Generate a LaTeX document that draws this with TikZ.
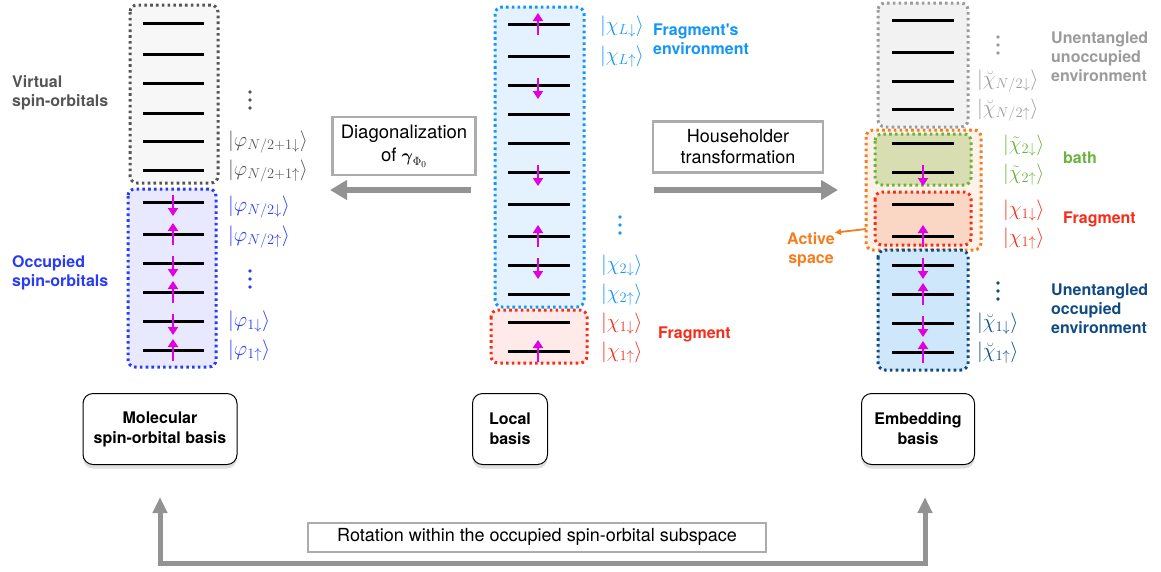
\documentclass[tikz,border=0pt]{standalone}
\usepackage{amsmath,amssymb}
\usepackage{fontspec}
\setmainfont{TeX Gyre Heros}
\usetikzlibrary{arrows.meta,shadows}

\definecolor{spinmag}{RGB}{225,0,225}
\definecolor{virtgray}{RGB}{85,85,85}
\definecolor{occblue}{RGB}{40,60,245}
\definecolor{envblue}{RGB}{20,150,245}
\definecolor{fragred}{RGB}{245,45,25}
\definecolor{unoccgray}{RGB}{155,155,155}
\definecolor{bathgreen}{RGB}{105,180,60}
\definecolor{occdark}{RGB}{15,75,130}
\definecolor{activeorange}{RGB}{245,125,30}
\definecolor{bathfill}{RGB}{216,221,178}
\definecolor{fragfill}{RGB}{249,215,196}
\definecolor{occfill}{RGB}{207,231,250}

% three round dots standing for the omitted levels
\newcommand{\levdots}[3]{%
    \foreach \d in {-8,0,8}
        \fill[#1] (#2,#3+\d) circle (1.8pt);}

\begin{document}
\begin{tikzpicture}[x=1pt,y=-1pt,
    level/.style={line width=3pt},
    spin/.style={spinmag,line width=2.6pt,-{Triangle[length=8pt,width=10pt]}},
    orbbox/.style={rounded corners=7pt,line width=3pt,dash pattern=on 2.6pt off 3.2pt},
    ket/.style={anchor=west,inner sep=0pt,font=\fontsize{20}{20}\selectfont},
    tag/.style={anchor=west,inner sep=0pt,align=left,font=\fontsize{16}{19}\selectfont\bfseries},
    basis/.style={draw,rounded corners=10pt,line width=1pt,minimum height=71pt,align=center,
        fill=white,drop shadow={shadow xshift=0pt,shadow yshift=-4pt,opacity=0.25},
        font=\fontsize{16}{20}\selectfont\bfseries},
    opbox/.style={draw=gray!65,line width=2.5pt,fill=white,align=center,inner sep=0pt},
    flow/.style={gray!85,line width=6pt,-{Triangle[length=17pt,width=19pt]}},
    loop/.style={gray!85,line width=5pt,{Triangle[length=16pt,width=14pt]}-{Triangle[length=16pt,width=14pt]}}
]
\useasboundingbox (0,0) rectangle (1161,571);

% Molecular spin-orbital basis
\draw[orbbox,draw=virtgray,fill=gray!6] (130,5) rectangle (218,183);
\draw[orbbox,draw=occblue,fill=blue!9] (128,189) rectangle (216,367);
\foreach \y in {23,54,83,113,141,170,202,234,263,292,321,350}
    \draw[level] (143,\y) -- (204,\y);
\foreach \y in {202,263,321}
    \draw[spin] (173,\y-7) -- (173,\y+14);
\foreach \y in {234,292,350}
    \draw[spin] (173,\y+11) -- (173,\y-11);
\node[tag,text=virtgray] (virtlab) at (12,93) {Virtual\\spin-orbitals};
\node[tag,text=occblue] (occlab) at (12,273) {Occupied\\spin-orbitals};
\levdots{virtgray}{250}{100}
\levdots{occblue}{250}{279}
\node[ket,text=virtgray] (phiNd) at (228,142) {$|\varphi_{N/2+1\downarrow}\rangle$};
\node[ket,text=virtgray] (phiNu) at (228,171) {$|\varphi_{N/2+1\uparrow}\rangle$};
\node[ket,text=occblue] (phiHd) at (228,207) {$|\varphi_{N/2\downarrow}\rangle$};
\node[ket,text=occblue] (phiHu) at (228,237) {$|\varphi_{N/2\uparrow}\rangle$};
\node[ket,text=occblue] (phiOd) at (228,322) {$|\varphi_{1\downarrow}\rangle$};
\node[ket,text=occblue] (phiOu) at (228,351) {$|\varphi_{1\uparrow}\rangle$};

% Local basis
\draw[orbbox,draw=envblue,fill=envblue!12] (495,7) rectangle (584,307);
\draw[orbbox,draw=fragred,fill=fragred!10] (491,310) rectangle (587,363);
\foreach \y in {24,56,85,114,143,172,204,236,265,294,322,351}
    \draw[level] (508,\y) -- (570,\y);
\foreach \y in {85,172,265}
    \draw[spin] (538,\y-7) -- (538,\y+14);
\foreach \y in {24,236,351}
    \draw[spin] (538,\y+11) -- (538,\y-11);
\node[ket,text=envblue] (chiLd) at (600,27) {$|\chi_{L\downarrow}\rangle$};
\node[ket,text=envblue] (chiLu) at (600,57) {$|\chi_{L\uparrow}\rangle$};
\levdots{envblue}{620}{225}
\node[ket,text=envblue] (chiTd) at (601,266) {$|\chi_{2\downarrow}\rangle$};
\node[ket,text=envblue] (chiTu) at (601,295) {$|\chi_{2\uparrow}\rangle$};
\node[ket,text=fragred] (chiOd) at (601,324) {$|\chi_{1\downarrow}\rangle$};
\node[ket,text=fragred] (chiOu) at (601,353) {$|\chi_{1\uparrow}\rangle$};
\node[tag,text=envblue] (envlab) at (653,39) {Fragment\textquotesingle s\\environment};
\node[tag,text=fragred] (fraglab) at (658,334) {Fragment};

% Embedding basis
\draw[orbbox,draw=unoccgray,fill=gray!10] (878,3) rectangle (968,127);
\draw[orbbox,draw=activeorange,fill=activeorange!10] (866,130) rectangle (981,250);
\draw[orbbox,draw=bathgreen,fill=bathfill] (875,134) rectangle (971,185);
\draw[orbbox,draw=fragred,fill=fragfill] (875,192) rectangle (971,245);
\draw[orbbox,draw=occdark,fill=occfill] (878,250) rectangle (968,370);
\foreach \y in {20,52,81,109,143,172,204,236,265,294,323,352}
    \draw[level] (892,\y) -- (954,\y);
\foreach \y in {172,265,323}
    \draw[spin] (923,\y-7) -- (923,\y+14);
\foreach \y in {236,294,352}
    \draw[spin] (923,\y+11) -- (923,\y-11);
\levdots{unoccgray}{998}{45}
\node[ket,text=unoccgray] (bchiNd) at (977,81) {$|\breve{\chi}_{N/2\downarrow}\rangle$};
\node[ket,text=unoccgray] (bchiNu) at (977,110) {$|\breve{\chi}_{N/2\uparrow}\rangle$};
\node[ket,text=bathgreen] (tchiTd) at (1003,146) {$|\tilde{\chi}_{2\downarrow}\rangle$};
\node[ket,text=bathgreen] (tchiTu) at (1003,175) {$|\tilde{\chi}_{2\uparrow}\rangle$};
\node[ket,text=fragred] (echiOd) at (1003,211) {$|\chi_{1\downarrow}\rangle$};
\node[ket,text=fragred] (echiOu) at (1003,239) {$|\chi_{1\uparrow}\rangle$};
\levdots{occdark}{998}{291}
\node[ket,text=occdark] (bchiOd) at (977,324) {$|\breve{\chi}_{1\downarrow}\rangle$};
\node[ket,text=occdark] (bchiOu) at (977,353) {$|\breve{\chi}_{1\uparrow}\rangle$};
\node[tag,text=unoccgray] (unocclab) at (1051,57) {Unentangled\\unoccupied\\environment};
\node[tag,text=bathgreen] (bathlab) at (1063,158) {bath};
\node[tag,text=fragred] (efraglab) at (1063,219) {Fragment};
\node[tag,text=occdark] (occenvlab) at (1051,309) {Unentangled\\occupied\\environment};
\node[tag,text=activeorange,anchor=center,align=center] (actlab) at (811,250) {Active\\space};
\coordinate (actedge) at (866,229);
\draw[activeorange,line width=1.8pt,-{Triangle[length=6pt,width=6pt]}] (actedge) -- (actlab.north east);

% transformations between the bases
\node[opbox,minimum width=143pt,minimum height=58pt,font=\fontsize{18.5}{23}\selectfont] (diag) at (404,146)
    {Diagonalization\\of $\boldsymbol{\gamma}_{\Phi_0}$};
\node[opbox,minimum width=170pt,minimum height=51pt,font=\fontsize{18}{21}\selectfont] (house) at (738,147)
    {Householder\\transformation};
\coordinate (diagfrom) at (471,190);
\coordinate (diagto) at (330,190);
\coordinate (housefrom) at (654,190);
\coordinate (houseto) at (838,190);
\draw[flow] (diagfrom) -- (diagto);
\draw[flow] (housefrom) -- (houseto);

% the three bases
\node[basis,minimum width=154pt] (molbasis) at (160,429) {Molecular\\spin-orbital basis};
\node[basis,minimum width=75pt] (locbasis) at (510,429) {Local\\basis};
\node[basis,minimum width=113pt] (embbasis) at (918,429) {Embedding\\basis};

% rotation in the occupied subspace
\coordinate (molin) at (160,497);
\coordinate (embin) at (925,497);
\draw[loop,line join=miter] (molin) -- ++(0,66) -| (embin);
\node[opbox,line width=2pt,minimum width=458pt,minimum height=29pt,font=\fontsize{18}{20}\selectfont] (rotbox) at (537,537)
    {Rotation within the occupied spin-orbital subspace};
\end{tikzpicture}
\end{document}
